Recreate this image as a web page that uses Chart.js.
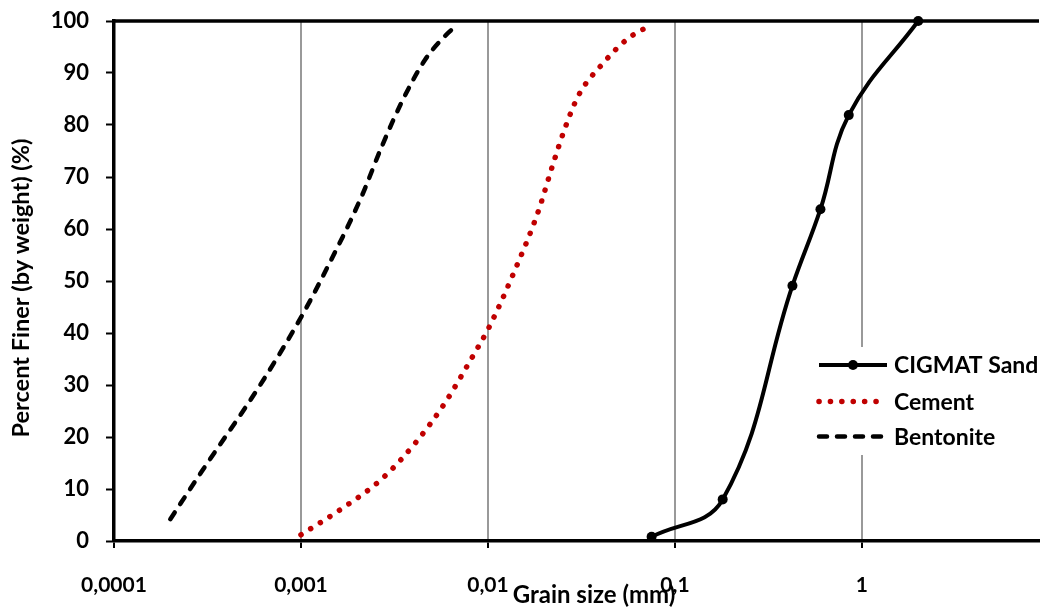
<!DOCTYPE html>
<html><head><meta charset="utf-8">
<script src="https://cdn.jsdelivr.net/npm/chart.js@4"></script>
<style>html,body{margin:0;padding:0;background:#fff}#wrap{width:1044px;height:608px}</style>
</head><body><div id="wrap"><canvas id="c" width="1044" height="608"></canvas></div>
<script>
// ---- data ----
const seriesNames = ['CIGMAT Sand', 'Cement', 'Bentonite'];
const sandX = [0.075, 0.18, 0.425, 0.6, 0.85, 2];
const sandY = [0.8, 8, 49.1, 63.8, 81.9, 100];
const cementX = [0.001, 0.00165, 0.0027, 0.0041, 0.0059, 0.0081, 0.0101, 0.0139, 0.0185, 0.0222, 0.0257, 0.0305, 0.0404, 0.0555, 0.074];
const cementY = [1.2, 6.2, 11.9, 18.9, 26.6, 34.9, 41.0, 52.0, 63.2, 72.3, 79.2, 85.7, 91.5, 96.5, 99.2];
const bentX = [0.0002, 0.0003, 0.0006, 0.001, 0.0013, 0.0021, 0.0027, 0.0035, 0.0046, 0.0056, 0.0066];
const bentY = [4.2, 13.8, 29.8, 43, 50.7, 66.1, 75.8, 84.8, 92.5, 96.3, 98.8];
const xTicks = [0.0001, 0.001, 0.01, 0.1, 1];
const xMin = 0.0001, xMax = 8.85;
const yMin = 0, yMax = 100, yStep = 10;
const xTitle = 'Grain size (mm)';
const yTitle = 'Percent Finer (by weight) (%)';

const FONT = 'Lato, "Open Sans", sans-serif';
const pts = (xs, ys) => xs.map((x, i) => ({x: x, y: ys[i]}));

const legendPlugin = {
  id: 'customLegend',
  afterDatasetsDraw(chart) {
    const ctx = chart.ctx;
    ctx.save();
    ctx.fillStyle = '#fff';
    ctx.fillRect(810, 347, 234, 108);
    const rows = [365, 401.5, 436.5];
    const x0 = 819, x1 = 887, tx = 894;
    chart.data.datasets.forEach((ds, i) => {
      const y = rows[i];
      ctx.strokeStyle = ds.borderColor;
      ctx.lineWidth = ds.borderWidth;
      ctx.lineCap = ds.borderCapStyle || 'butt';
      ctx.setLineDash(ds.borderDash || []);
      ctx.beginPath(); ctx.moveTo(x0, y); ctx.lineTo(x1, y); ctx.stroke();
      ctx.setLineDash([]);
      if (ds.pointRadius > 0) {
        ctx.fillStyle = ds.pointBackgroundColor;
        ctx.beginPath(); ctx.arc((x0 + x1) / 2, y, ds.pointRadius, 0, Math.PI * 2); ctx.fill();
      }
      ctx.fillStyle = '#000';
      ctx.font = 'bold 23px ' + FONT;
      ctx.textBaseline = 'middle';
      ctx.textAlign = 'left';
      ctx.fillText(ds.label, tx, y + 1);
    });
    ctx.restore();
  },
  afterDraw(chart) {
    const a = chart.chartArea, ctx = chart.ctx;
    ctx.save();
    ctx.strokeStyle = '#000'; ctx.lineWidth = 3.5;
    ctx.beginPath(); ctx.moveTo(a.left - 1.75, a.top); ctx.lineTo(a.right, a.top); ctx.stroke();
    // axis titles
    ctx.fillStyle = '#000';
    ctx.textAlign = 'center';
    ctx.textBaseline = 'alphabetic';
    ctx.font = 'bold 24px ' + FONT;
    ctx.fillText(xTitle, 594, 603);
    ctx.translate(29, 288);
    ctx.rotate(-Math.PI / 2);
    ctx.font = 'bold 23.5px ' + FONT;
    ctx.fillText(yTitle, 0, 0);
    ctx.restore();
  }
};

new Chart(document.getElementById('c'), {
  type: 'scatter',
  data: {
    datasets: [
      {label: seriesNames[0], data: pts(sandX, sandY), showLine: true, borderColor: '#000', borderWidth: 4,
       pointRadius: 5, pointBackgroundColor: '#000', pointBorderWidth: 0, tension: 0.4, clip: false},
      {label: seriesNames[1], data: pts(cementX, cementY), showLine: true, borderColor: '#C00000', borderWidth: 5.5,
       borderDash: [0.1, 11.3], borderCapStyle: 'round', pointRadius: 0, cubicInterpolationMode: 'monotone', clip: false},
      {label: seriesNames[2], data: pts(bentX, bentY), showLine: true, borderColor: '#000', borderWidth: 4.5,
       borderDash: [8, 10], borderCapStyle: 'round', pointRadius: 0, cubicInterpolationMode: 'monotone', clip: false}
    ]
  },
  options: {
    responsive: false, animation: false, devicePixelRatio: 1,
    layout: {padding: {top: 21, right: 0, left: 0, bottom: 0}},
    plugins: {legend: {display: false}, tooltip: {enabled: false}},
    scales: {
      x: {
        type: 'logarithmic', min: xMin, max: xMax, position: 'bottom',
        afterBuildTicks: s => { s.ticks = xTicks.map(v => ({value: v})); },
        afterFit: s => { s.height = 67; s.paddingLeft = 0; s.paddingRight = 0; },
        ticks: {callback: v => String(v).replace('.', ','), autoSkip: false, maxRotation: 0,
                font: {family: FONT, size: 21, weight: 'bold'}, color: '#000', padding: 25},
        grid: {color: c => (c.tick && c.tick.value === xMin) ? 'rgba(0,0,0,0)' : '#999', lineWidth: 2,
               tickColor: '#000', tickLength: 7, tickWidth: 2},
        border: {color: '#000', width: 3.5},
        title: {display: false}
      },
      y: {
        type: 'linear', min: yMin, max: yMax,
        afterFit: s => { s.width = 114; s.paddingTop = 0; s.paddingBottom = 0; },
        ticks: {stepSize: yStep, font: {family: FONT, size: 22, weight: 'bold'}, color: '#000', padding: 17},
        grid: {drawOnChartArea: false, tickColor: '#000', tickLength: 8, tickWidth: 2},
        border: {color: '#000', width: 3.5},
        title: {display: false}
      }
    }
  },
  plugins: [legendPlugin]
});
</script></body></html>
